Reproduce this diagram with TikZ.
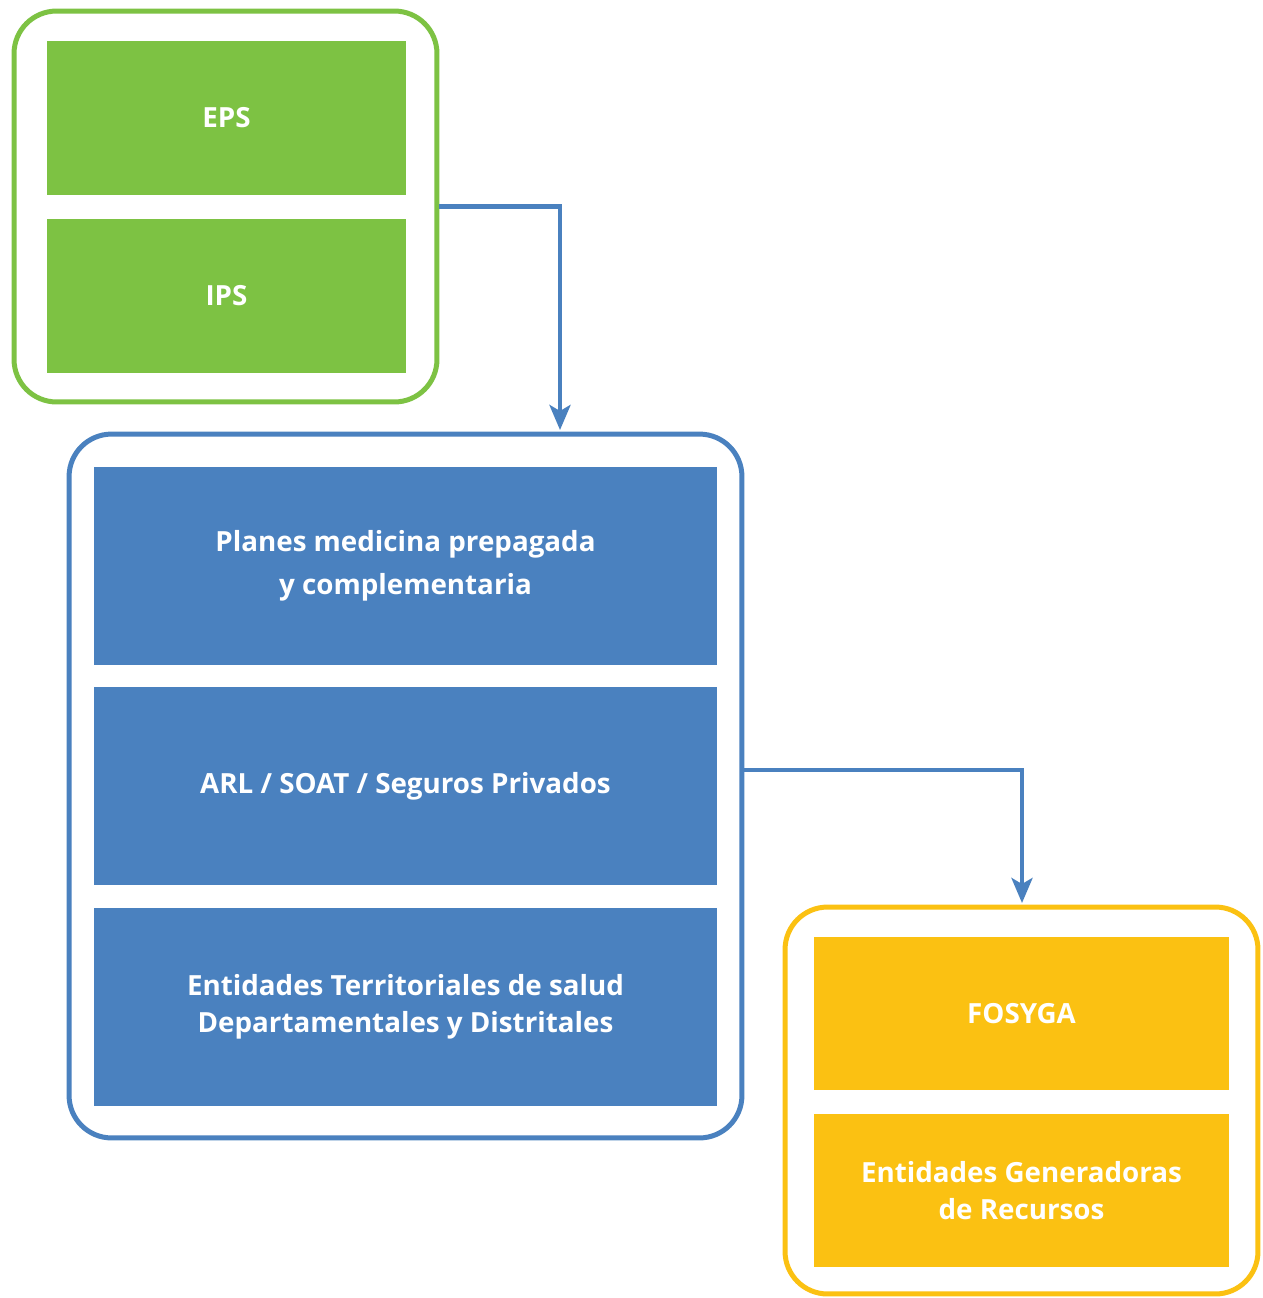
\documentclass[tikz,border=0pt]{standalone}
\usepackage{fontspec}
\setmainfont{Open Sans}
\usepackage{tikz}
\usetikzlibrary{arrows.meta}
\usetikzlibrary{positioning}

\definecolor{grn}{HTML}{7DC243}
\definecolor{blu}{HTML}{4A81BF}
\definecolor{ylw}{HTML}{FBC112}

\begin{document}
\begin{tikzpicture}[x=0.02cm,y=-0.02cm]
  \tikzset{frame/.style = {draw,line width=0.1cm,rounded corners=0.85cm,fill=white,inner sep=0pt}}
  \tikzset{entity/.style = {shape=rectangle,inner sep=0pt,text=white,align=center,
      font=\fontsize{15.8}{21}\selectfont\bfseries}}
  \tikzset{edge/.style = {draw=blu,line width=0.09cm,-tipA}}
  \tikzset{%
  tipA/.tip={Stealth[length=0.5cm,width=0.42cm,inset=0.12cm]},
}
  \useasboundingbox (0,0) rectangle (1262,1298);

	% grupo superior
	\node[frame,draw=grn,minimum width=8.46cm,minimum height=7.82cm] (G) at (225.5,206.5) {};
	\node[entity,fill=grn,minimum width=7.18cm,minimum height=3.08cm] (EPS) at (226.5,118) {EPS};
	\node[entity,fill=grn,minimum width=7.18cm,minimum height=3.08cm] (IPS) at (226.5,296) {IPS};

	% grupo central
	\node[frame,draw=blu,minimum width=13.46cm,minimum height=14.08cm] (B) at (405.5,786) {};
	\node[entity,fill=blu,minimum width=12.46cm,minimum height=3.96cm,
	  font=\fontsize{15.8}{24.4}\selectfont\bfseries] (PM) at (405.5,566) {Planes medicina prepagada\\y complementaria};
	\node[entity,fill=blu,minimum width=12.46cm,minimum height=3.96cm] (ARL) at (405.5,786) {ARL / SOAT / Seguros Privados};
	\node[entity,fill=blu,minimum width=12.46cm,minimum height=3.96cm] (ET) at (405.5,1007) {Entidades Territoriales de salud\\Departamentales y Distritales};

	% grupo inferior
	\node[frame,draw=ylw,minimum width=9.46cm,minimum height=7.74cm] (Y) at (1021.5,1100.5) {};
	\node[entity,fill=ylw,minimum width=8.3cm,minimum height=3.06cm] (FOS) at (1021.5,1013.5) {FOSYGA};
	\node[entity,fill=ylw,minimum width=8.3cm,minimum height=3.06cm] (EGR) at (1021.5,1190.5) {Entidades Generadoras\\de Recursos};

	\coordinate (inB) at (560,430);
	\coordinate (inY) at (1022,903);
	\path (B.east) ++(0,-16) coordinate (outB);

    \foreach \from/\to in {G.east/inB, outB/inY}
    \path[edge] (\from) -| (\to);

\end{tikzpicture}
\end{document}
